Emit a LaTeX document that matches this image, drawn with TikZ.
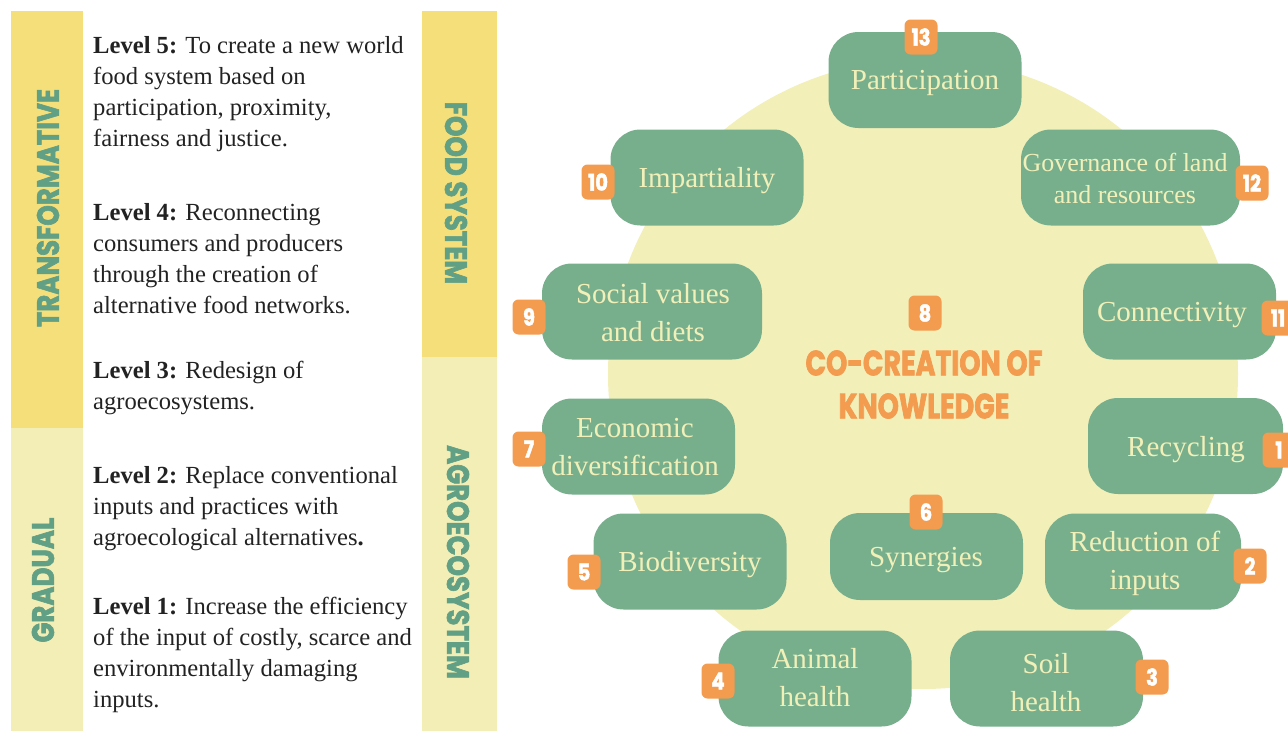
\documentclass[tikz,border=0pt]{standalone}
\usepackage{fontspec}
\setmainfont{Liberation Serif}
\newfontfamily\headfont{Poppins}[FakeStretch=0.84, FakeBold=2]
\newfontfamily\ctrfont{Poppins}[FakeStretch=0.77, FakeBold=2]
\definecolor{bandY}{HTML}{F4DF7B}
\definecolor{bandL}{HTML}{F2EEB5}
\definecolor{circ}{HTML}{F2EFB8}
\definecolor{boxg}{HTML}{77AF8D}
\definecolor{boxt}{HTML}{F2F0B9}
\definecolor{orng}{HTML}{F39B4F}
\definecolor{lblg}{HTML}{62A085}
\definecolor{txt}{HTML}{222222}
\tikzset{
  box/.style={fill=boxg, rounded corners=30pt, minimum width=193pt, minimum height=96pt, inner sep=0pt},
  boxtext/.style={text=boxt, align=center, font=\fontsize{29}{38}\selectfont, inner sep=0pt},
  badge/.style={fill=orng, rounded corners=6pt, minimum width=33pt, minimum height=35pt, inner sep=0pt, text=white, font=\headfont\bfseries\fontsize{23}{23}\selectfont},
  lvl/.style={anchor=base west, inner sep=0pt, text=txt, font=\fontsize{24.6}{31}\selectfont},
  vlabel/.style={text=lblg, inner sep=0pt, font=\headfont\bfseries\fontsize{31}{31}\selectfont},
  ctr/.style={text=orng, inner sep=0pt, font=\ctrfont\bfseries\fontsize{35}{35}\selectfont}
}
\begin{document}
\begin{tikzpicture}[x=1pt,y=-1pt]
\useasboundingbox (0,0) rectangle (1288,731);
% left bands
\fill[bandY] (11,11) rectangle (83,428);
\fill[bandL] (11,428) rectangle (83,731);
\fill[bandY] (422,11) rectangle (497,357);
\fill[bandL] (422,357) rectangle (497,731);
\node[vlabel, rotate=90] (transf) at (48,208) {TRANSFORMATIVE};
\node[vlabel, rotate=90] (grad) at (43,580) {GRADUAL};
\node[vlabel, rotate=-90] (foods) at (456,193) {FOOD SYSTEM};
\node[vlabel, rotate=-90] (agro) at (458,562) {AGROECOSYSTEM};
% level texts
\node[lvl] (l5a) at (93,53) {\textbf{Level 5:} To create a new world};
\node[lvl] (l5b) at (93,84) {food system based on};
\node[lvl] (l5c) at (93,115) {participation, proximity,};
\node[lvl] (l5d) at (93,146) {fairness and justice.};
\node[lvl] (l4a) at (93,220) {\textbf{Level 4:} Reconnecting};
\node[lvl] (l4b) at (93,251) {consumers and producers};
\node[lvl] (l4c) at (93,282) {through the creation of};
\node[lvl] (l4d) at (93,313) {alternative food networks.};
\node[lvl] (l3a) at (93,378) {\textbf{Level 3:} Redesign of};
\node[lvl] (l3b) at (93,409) {agroecosystems.};
\node[lvl] (l2a) at (93,483) {\textbf{Level 2:} Replace conventional};
\node[lvl] (l2b) at (93,514) {inputs and practices with};
\node[lvl] (l2c) at (93,545) {agroecological alternatives\textbf{.}};
\node[lvl] (l1a) at (93,614) {\textbf{Level 1:} Increase the efficiency};
\node[lvl] (l1b) at (93,645) {of the input of costly, scarce and};
\node[lvl] (l1c) at (93,676) {environmentally damaging};
\node[lvl] (l1d) at (93,707) {inputs.};
% circle
\node[circle, fill=circ, minimum size=630pt, inner sep=0pt] (disc) at (923,374) {};
% boxes
\node[box] (b13) at (925,80) {};
\node[box] (b10) at (707,177.5) {};
\node[box, minimum width=219pt] (b12) at (1130.5,177.5) {};
\node[box, minimum width=220pt] (b9) at (652,311.5) {};
\node[box] (b11) at (1179.5,311.5) {};
\node[box] (b7) at (638.5,446.5) {};
\node[box, minimum width=195pt] (b1) at (1185.5,446) {};
\node[box] (b5) at (690,561.5) {};
\node[box, minimum height=87pt] (b6) at (926.5,556.5) {};
\node[box, minimum width=196pt] (b2) at (1143,561.5) {};
\node[box] (b4) at (815,678.5) {};
\node[box] (b3) at (1046.5,678.5) {};
% box texts
\node[boxtext] (t13) at (925,83) {Participation};
\node[boxtext] (t10) at (707,181) {Impartiality};
\node[boxtext, font=\fontsize{26}{32}\selectfont] (t12) at (1125,178) {Governance of land\\and resources};
\node[boxtext] (t9) at (653,313) {Social values\\and diets};
\node[boxtext] (t11) at (1172,315) {Connectivity};
\node[boxtext] (t7) at (635,447) {Economic\\diversification};
\node[boxtext] (t1) at (1186,450) {Recycling};
\node[boxtext] (t5) at (690,565) {Biodiversity};
\node[boxtext] (t6) at (926,560) {Synergies};
\node[boxtext] (t2) at (1145,563) {Reduction of\\inputs};
\node[boxtext] (t4) at (815,678) {Animal\\health};
\node[boxtext] (t3) at (1046,683) {Soil\\health};
% badges
\node[badge] (n13) at (921,37) {13};
\node[badge] (n10) at (598,182) {10};
\node[badge] (n12) at (1252,183) {12};
\node[badge] (n9) at (529,317) {9};
\node[badge] (n11) at (1278,318) {11};
\node[badge] (n7) at (529,449) {7};
\node[badge] (n1) at (1279,450) {1};
\node[badge] (n5) at (584,572) {5};
\node[badge] (n6) at (926,512) {6};
\node[badge] (n2) at (1250,566) {2};
\node[badge] (n4) at (718,681) {4};
\node[badge] (n3) at (1152,677) {3};
\node[badge] (n8) at (925,313) {8};
% centre
\node[ctr] (co1) at (924,363) {CO-CREATION OF};
\node[ctr] (co2) at (924,406) {KNOWLEDGE};
\end{tikzpicture}
\end{document}
